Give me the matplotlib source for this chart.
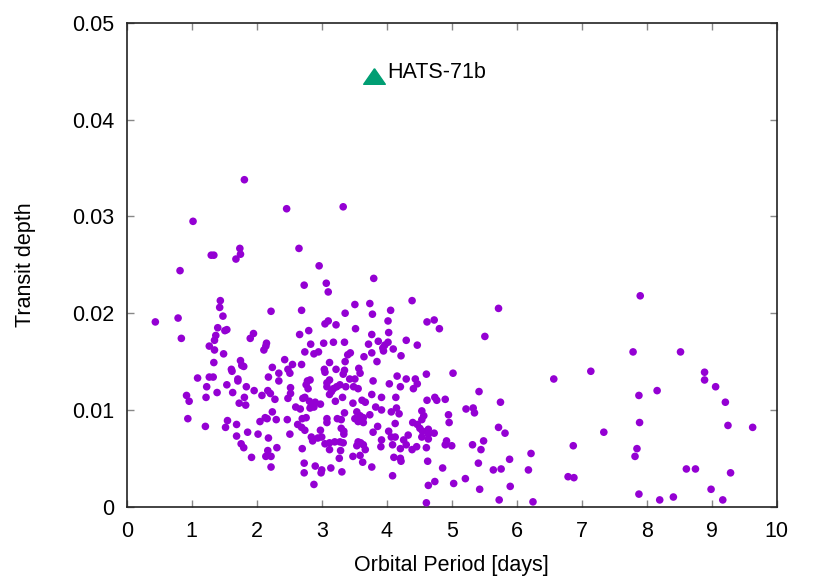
import numpy as np
import matplotlib
matplotlib.use('Agg')
import matplotlib.pyplot as plt
from matplotlib.path import Path

plt.rcParams['font.family'] = ['Liberation Sans', 'DejaVu Sans']

# orbital period [days] and transit depth of the known transiting planets
period = [
    0.44, 0.82, 0.79, 0.84, 1.02, 0.92, 0.96, 0.94, 1.09, 1.21,
    1.30, 1.34, 1.74, 1.75, 1.68, 1.81, 2.46, 3.33, 2.65, 2.96,
    2.73, 3.07, 3.10, 1.44, 1.43, 1.48, 2.22, 2.69, 3.36, 1.40,
    1.51, 1.54, 1.95, 1.90, 2.66, 2.80, 3.05, 3.10, 3.22, 1.37,
    1.35, 1.27, 1.35, 2.15, 2.14, 2.11, 1.49, 1.34, 2.83, 2.74,
    2.88, 2.95, 3.03, 3.18, 3.35, 2.43, 2.55, 2.48, 2.51, 2.69,
    2.24, 2.34, 2.34, 2.18, 1.75, 1.77, 1.80, 1.61, 1.62, 1.71,
    1.71, 1.27, 1.33, 1.23, 1.54, 1.39, 1.22, 1.63, 1.84, 1.96,
    1.81, 1.73, 1.83, 2.08, 2.17, 2.21, 2.28, 2.52, 2.52, 2.48,
    2.60, 2.67, 2.71, 2.74, 2.78, 2.76, 2.79, 2.82, 3.04, 3.05,
    3.08, 3.12, 3.22, 3.33, 3.35, 3.12, 3.12, 3.15, 3.18, 3.23,
    3.28, 3.21, 3.32, 2.81, 2.84, 2.82, 2.88, 2.90, 2.98, 1.55,
    1.52, 1.69, 1.69, 1.86, 1.76, 1.80, 1.92, 2.02, 2.05, 2.13,
    2.16, 2.24, 2.30, 2.18, 2.17, 2.14, 2.22, 2.22, 2.31, 2.47,
    2.51, 2.63, 2.69, 2.74, 2.70, 2.76, 2.70, 2.73, 2.73, 2.88,
    2.90, 3.00, 2.99, 3.14, 3.31, 3.08, 3.08, 2.84, 2.86, 2.94,
    3.00, 3.05, 3.12, 3.20, 3.28, 3.33, 3.12, 3.27, 3.29, 3.30,
    3.34, 3.34, 3.24, 3.30, 3.35, 2.98, 3.40, 3.36, 3.08, 3.37,
    3.80, 3.51, 3.74, 3.78, 4.06, 4.39, 4.02, 4.62, 4.73, 4.81,
    3.52, 3.77, 4.03, 3.72, 3.87, 4.02, 3.97, 3.94, 3.95, 4.10,
    4.30, 4.47, 4.22, 3.44, 3.65, 3.77, 3.85, 3.57, 3.59, 3.51,
    3.43, 3.79, 4.04, 4.16, 4.30, 4.44, 4.47, 4.61, 5.02, 3.49,
    3.56, 4.21, 4.41, 3.77, 3.92, 4.14, 3.48, 3.62, 3.67, 3.83,
    3.92, 4.07, 4.15, 4.19, 4.13, 4.54, 4.57, 4.54, 4.62, 4.74,
    4.77, 4.90, 4.95, 4.96, 3.54, 3.59, 3.51, 3.64, 3.74, 3.56,
    3.64, 3.86, 3.79, 4.03, 4.07, 4.13, 4.40, 4.47, 4.51, 4.55,
    4.64, 4.64, 4.73, 4.33, 4.26, 4.30, 4.39, 4.46, 4.54, 4.64,
    3.92, 3.91, 4.09, 4.21, 4.61, 4.92, 5.00, 4.90, 3.56, 3.60,
    3.64, 3.67, 3.54, 3.48, 3.59, 3.63, 3.77, 4.11, 4.21, 4.22,
    4.09, 4.63, 4.86, 4.64, 4.74, 5.03, 4.61, 5.42, 5.75, 5.22,
    5.33, 5.35, 5.72, 5.82, 5.32, 5.49, 5.45, 5.41, 5.64, 5.76,
    5.89, 5.21, 5.43, 5.73, 5.90, 5.51, 5.72, 7.90, 7.79, 8.52,
    7.14, 6.57, 8.89, 8.89, 9.06, 8.16, 7.88, 9.21, 7.89, 9.25,
    9.63, 7.34, 6.87, 6.22, 7.85, 7.82, 6.18, 6.79, 6.88, 8.61,
    8.75, 9.29, 7.88, 8.99, 6.25, 8.20, 8.41, 9.17,
]
depth = [
    0.0191, 0.0244, 0.0195, 0.0174, 0.0295, 0.0115, 0.0109, 0.0091, 0.0133, 0.0083,
    0.0260, 0.0260, 0.0267, 0.0261, 0.0256, 0.0338, 0.0308, 0.0310, 0.0267, 0.0249,
    0.0229, 0.0231, 0.0222, 0.0213, 0.0206, 0.0197, 0.0202, 0.0203, 0.0200, 0.0185,
    0.0182, 0.0183, 0.0179, 0.0174, 0.0178, 0.0182, 0.0189, 0.0192, 0.0188, 0.0177,
    0.0172, 0.0166, 0.0162, 0.0169, 0.0166, 0.0162, 0.0158, 0.0149, 0.0168, 0.0160,
    0.0158, 0.0160, 0.0169, 0.0170, 0.0170, 0.0152, 0.0147, 0.0142, 0.0138, 0.0147,
    0.0144, 0.0138, 0.0130, 0.0134, 0.0151, 0.0146, 0.0145, 0.0142, 0.0140, 0.0132,
    0.0130, 0.0134, 0.0134, 0.0124, 0.0126, 0.0118, 0.0113, 0.0118, 0.0124, 0.0120,
    0.0113, 0.0107, 0.0105, 0.0115, 0.0120, 0.0117, 0.0111, 0.0123, 0.0117, 0.0112,
    0.0103, 0.0101, 0.0112, 0.0113, 0.0130, 0.0126, 0.0122, 0.0131, 0.0142, 0.0139,
    0.0128, 0.0149, 0.0142, 0.0137, 0.0141, 0.0131, 0.0116, 0.0119, 0.0122, 0.0124,
    0.0126, 0.0109, 0.0113, 0.0109, 0.0104, 0.0102, 0.0103, 0.0108, 0.0106, 0.0089,
    0.0082, 0.0085, 0.0073, 0.0077, 0.0065, 0.0061, 0.0051, 0.0075, 0.0088, 0.0092,
    0.0091, 0.0098, 0.0090, 0.0071, 0.0058, 0.0052, 0.0052, 0.0041, 0.0061, 0.0090,
    0.0075, 0.0085, 0.0082, 0.0079, 0.0091, 0.0092, 0.0060, 0.0045, 0.0035, 0.0023,
    0.0042, 0.0038, 0.0035, 0.0040, 0.0036, 0.0091, 0.0087, 0.0072, 0.0068, 0.0071,
    0.0072, 0.0065, 0.0066, 0.0067, 0.0067, 0.0066, 0.0059, 0.0050, 0.0058, 0.0081,
    0.0078, 0.0075, 0.0091, 0.0090, 0.0097, 0.0079, 0.0157, 0.0150, 0.0124, 0.0124,
    0.0236, 0.0209, 0.0210, 0.0199, 0.0203, 0.0213, 0.0192, 0.0191, 0.0193, 0.0184,
    0.0184, 0.0178, 0.0180, 0.0168, 0.0171, 0.0170, 0.0167, 0.0164, 0.0161, 0.0163,
    0.0172, 0.0167, 0.0156, 0.0159, 0.0155, 0.0159, 0.0150, 0.0143, 0.0138, 0.0132,
    0.0132, 0.0130, 0.0127, 0.0135, 0.0132, 0.0132, 0.0127, 0.0137, 0.0138, 0.0124,
    0.0122, 0.0124, 0.0122, 0.0116, 0.0113, 0.0113, 0.0107, 0.0110, 0.0108, 0.0103,
    0.0100, 0.0098, 0.0102, 0.0096, 0.0086, 0.0099, 0.0094, 0.0090, 0.0110, 0.0113,
    0.0110, 0.0111, 0.0095, 0.0087, 0.0098, 0.0094, 0.0091, 0.0092, 0.0095, 0.0088,
    0.0087, 0.0083, 0.0077, 0.0078, 0.0072, 0.0072, 0.0087, 0.0085, 0.0081, 0.0078,
    0.0080, 0.0075, 0.0076, 0.0074, 0.0069, 0.0064, 0.0059, 0.0062, 0.0072, 0.0070,
    0.0069, 0.0062, 0.0064, 0.0060, 0.0061, 0.0068, 0.0063, 0.0064, 0.0067, 0.0066,
    0.0064, 0.0059, 0.0063, 0.0052, 0.0053, 0.0046, 0.0041, 0.0051, 0.0050, 0.0047,
    0.0032, 0.0047, 0.0040, 0.0022, 0.0026, 0.0024, 0.0004, 0.0119, 0.0108, 0.0101,
    0.0102, 0.0097, 0.0082, 0.0076, 0.0064, 0.0068, 0.0059, 0.0045, 0.0038, 0.0039,
    0.0049, 0.0029, 0.0018, 0.0007, 0.0021, 0.0176, 0.0205, 0.0218, 0.0160, 0.0160,
    0.0140, 0.0132, 0.0139, 0.0131, 0.0124, 0.0120, 0.0115, 0.0108, 0.0087, 0.0084,
    0.0082, 0.0077, 0.0063, 0.0055, 0.0060, 0.0052, 0.0038, 0.0031, 0.0030, 0.0039,
    0.0039, 0.0035, 0.0013, 0.0018, 0.0005, 0.0007, 0.0010, 0.0007,
]

# the highlighted planet
hatsName = 'HATS-71b'
hatsPeriod = 3.80
hatsDepth = 0.0445

xTicks = [0, 1, 2, 3, 4, 5, 6, 7, 8, 9, 10]
yTicks = [0, 0.01, 0.02, 0.03, 0.04, 0.05]
yTickLabels = ['0', '0.01', '0.02', '0.03', '0.04', '0.05']

fig = plt.figure(figsize=(8.3, 5.81), dpi=100)
ax = fig.add_axes([0.1527, 0.1279, 0.7831, 0.8325])

ax.scatter(period, depth, s=30, color='#9400d3', edgecolors='none', zorder=3)

# gnuplot style triangle (flatter than matplotlib's '^')
tri = Path([(0, 0.72), (-1, -0.72), (1, -0.72), (0, 0.72)])
ax.plot([hatsPeriod], [hatsDepth], marker=tri, markersize=15.6,
        color='#009e73', linestyle='none', zorder=4)
ax.annotate(hatsName, (hatsPeriod, hatsDepth), xytext=(9.5, -1.5),
            textcoords='offset points', va='baseline', ha='left', fontsize=15.5)

ax.set_xlim(0, 10)
ax.set_ylim(0, 0.05)
ax.set_xticks(xTicks)
ax.set_yticks(yTicks)
ax.set_yticklabels(yTickLabels)

ax.tick_params(direction='in', length=5, width=1, colors='#888888',
               labelcolor='black', labelsize=15.5, top=True, right=True)
ax.tick_params(axis='x', pad=10)
ax.tick_params(axis='y', pad=9)
for sp in ax.spines.values():
    sp.set_color('#222222')
    sp.set_linewidth(1.2)

ax.set_xlabel('Orbital Period [days]', fontsize=15.5, labelpad=10)
ax.set_ylabel('Transit depth', fontsize=15.5, labelpad=26)

fig.savefig('out.png', dpi=100)
